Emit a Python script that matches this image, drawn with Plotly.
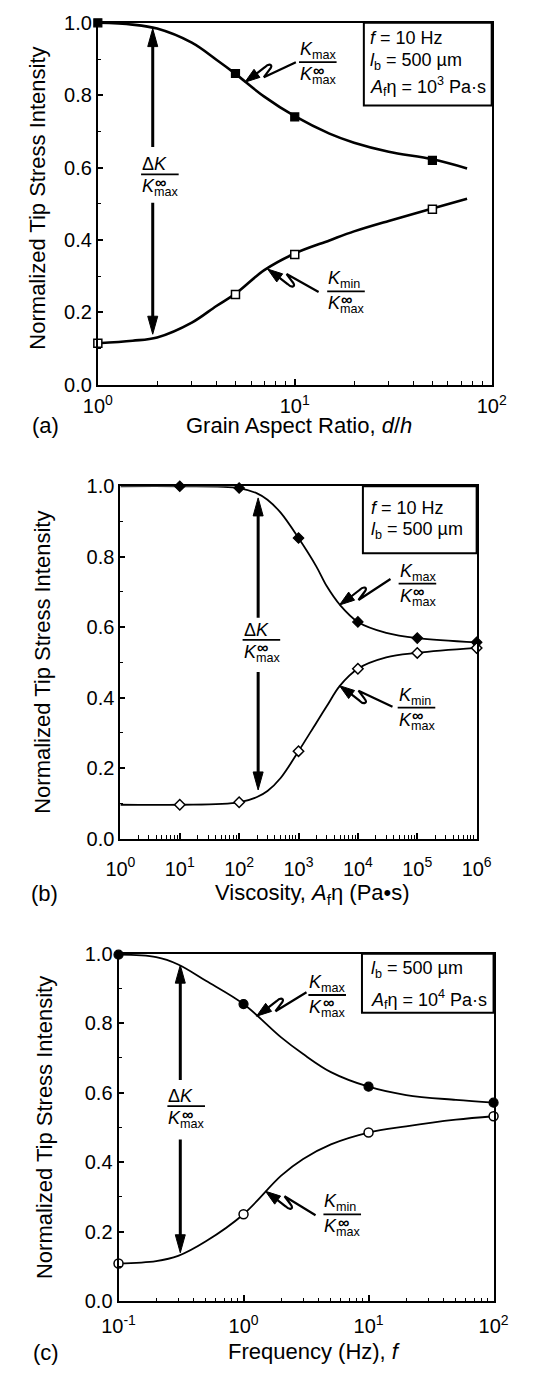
import plotly.graph_objects as go

W, H = 533, 1376
FONT = "Liberation Sans, Arial, Helvetica, sans-serif"

# ---------------- (a) grain aspect ratio ----------------
aspect_pts = [1, 5, 10, 50]
aspect_kmax = [1.0, 0.86, 0.74, 0.62]
aspect_kmin = [0.115, 0.25, 0.36, 0.485]
aspect_grid = [1, 1.5, 2, 3, 4, 5, 7, 10, 15, 20, 30, 50, 75]
aspect_kmax_fit = [1.0, 0.995, 0.984, 0.945, 0.898, 0.859, 0.796, 0.742, 0.694, 0.669, 0.644, 0.623, 0.598]
aspect_kmin_fit = [0.115, 0.122, 0.131, 0.172, 0.218, 0.252, 0.317, 0.363, 0.399, 0.424, 0.453, 0.487, 0.514]

# ---------------- (b) viscosity ----------------
visc_pts = [1e1, 1e2, 1e3, 1e4, 1e5, 1e6]
visc_kmax = [1.0, 0.995, 0.853, 0.615, 0.569, 0.557]
visc_kmin = [0.096, 0.103, 0.248, 0.482, 0.527, 0.541]
visc_grid = [1, 10, 100, 200, 300, 500, 1e3, 2e3, 3e3, 5e3, 1e4, 3e4, 1e5, 1e6]
visc_kmax_fit = [1.0, 1.0, 0.995, 0.98, 0.962, 0.925, 0.853, 0.772, 0.716, 0.663, 0.615, 0.584, 0.569, 0.557]
visc_kmin_fit = [0.096, 0.096, 0.103, 0.118, 0.135, 0.172, 0.248, 0.329, 0.376, 0.434, 0.482, 0.514, 0.527, 0.541]

# ---------------- (c) frequency ----------------
freq_pts = [0.1, 1, 10, 100]
freq_kmax = [0.997, 0.855, 0.617, 0.571]
freq_kmin = [0.108, 0.25, 0.485, 0.532]
freq_grid = [0.1, 0.2, 0.3, 0.5, 1, 2, 3, 5, 10, 20, 50, 100]
freq_kmax_fit = [0.997, 0.99, 0.969, 0.922, 0.855, 0.759, 0.711, 0.659, 0.617, 0.593, 0.579, 0.571]
freq_kmin_fit = [0.108, 0.115, 0.13, 0.172, 0.25, 0.361, 0.409, 0.451, 0.485, 0.503, 0.522, 0.532]

y_ticks = [0.0, 0.2, 0.4, 0.6, 0.8, 1.0]
y_title = "Normalized Tip Stress Intensity"

panels = [
    dict(tag="(a)", frame=(86, 12, 505, 380), decades=(0, 2), xpad=2,
         grid=aspect_grid, kmax_fit=aspect_kmax_fit, kmin_fit=aspect_kmin_fit,
         pts=aspect_pts, kmax=aspect_kmax, kmin=aspect_kmin,
         symbol="square", msize=8, lw=2.6,
         xtitle="Grain Aspect Ratio, <i>d</i>/<i>h</i>", xtitle_pos=(300, 421),
         ytitle_pos=(22, 190), tag_pos=(30, 421),
         box=(369, 12, 505, 96), box_x=375,
         box_lines=[("<i>f</i> = 10 Hz", 27),
                    ("<i>l</i><sub>b</sub> = 500 µm", 51),
                    ("<i>A</i><sub>f</sub>η = 10<sup>3</sup> Pa·s", 77)],
         dk=dict(x=1.9, top=0.984, gtop=0.657, gbot=0.503, bot=0.14, L=132, yb=166),
         kmax_lbl=dict(L=300, yb=52, tip=(5.58, 0.836), end=(51, 20)),
         kmin_lbl=dict(L=330, yb=285, tip=(7.28, 0.32), end=(51, 23))),
    dict(tag="(b)", frame=(110, 483, 489, 841), decades=(0, 6), xpad=11,
         grid=visc_grid, kmax_fit=visc_kmax_fit, kmin_fit=visc_kmin_fit,
         pts=visc_pts, kmax=visc_kmax, kmin=visc_kmin,
         symbol="diamond", msize=8, lw=1.8,
         xtitle="Viscosity, <i>A</i><sub>f</sub>η (Pa•s)", xtitle_pos=(314, 897),
         ytitle_pos=(27, 662), tag_pos=(29, 897),
         box=(368, 483, 489, 551), box_x=376,
         box_lines=[("<i>f</i> = 10 Hz", 505),
                    ("<i>l</i><sub>b</sub> = 500 µm", 528)],
         dk=dict(x=209, top=0.967, gtop=0.627, gbot=0.473, bot=0.138, L=240, yb=639),
         kmax_lbl=dict(L=406, yb=582, tip=(4900, 0.663), end=(51, 26)),
         kmin_lbl=dict(L=405, yb=708, tip=(4900, 0.434), end=(53, 21))),
    dict(tag="(c)", frame=(108, 958, 507, 1311), decades=(-1, 2), xpad=6,
         grid=freq_grid, kmax_fit=freq_kmax_fit, kmin_fit=freq_kmin_fit,
         pts=freq_pts, kmax=freq_kmax, kmin=freq_kmin,
         symbol="circle", msize=9, lw=1.8,
         xtitle="Frequency (Hz), <i>f</i>", xtitle_pos=(317, 1362),
         ytitle_pos=(30, 1135), tag_pos=(31, 1363),
         box=(367, 958, 507, 1018), box_x=376,
         box_lines=[("<i>l</i><sub>b</sub> = 500 µm", 974),
                    ("<i>A</i><sub>f</sub>η = 10<sup>4</sup> Pa·s", 1005)],
         dk=dict(x=0.312, top=0.967, gtop=0.636, gbot=0.465, bot=0.139, L=160, yb=1113),
         kmax_lbl=dict(L=310, yb=1000, tip=(1.27, 0.82), end=(50, 24)),
         kmin_lbl=dict(L=326, yb=1223, tip=(1.5, 0.316), end=(50, 24))),
]

fig = go.Figure()
shapes, anns = [], []


def px(x):
    return x / W


def py(y):
    return 1 - y / H


def text(x, y, s, size=19, xanchor="center", yanchor="middle", angle=0):
    anns.append(dict(x=px(x), y=py(y), xref="paper", yref="paper", text=s,
                     showarrow=False, xanchor=xanchor, yanchor=yanchor,
                     textangle=angle, borderpad=0,
                     font=dict(family=FONT, size=size, color="black")))


def fraction(L, yb, top, width=40):
    """Stacked ratio label: numerator over K^inf_max."""
    text(L, yb + 1, top, size=18, xanchor="left", yanchor="bottom")
    shapes.append(dict(type="line", xref="paper", yref="paper",
                       x0=px(L), x1=px(L + width), y0=py(yb), y1=py(yb),
                       line=dict(color="black", width=1.8)))
    text(L, yb + 1, "<i>K</i><sub>max</sub>", size=18, xanchor="left", yanchor="top")
    text(L + 21, yb + 8, "<b>∞</b>", size=16)


def head_path(dx, dy, length=17, half=4.5):
    """Triangle with its point at the anchor, opening toward (dx, dy)."""
    n = (dx * dx + dy * dy) ** 0.5
    ux, uy = dx / n, dy / n
    bx, by = ux * length, uy * length
    qx, qy = -uy * half, ux * half
    return (f"M0,0 L{bx + qx:.2f},{by + qy:.2f} "
            f"L{bx - qx:.2f},{by - qy:.2f} Z")


for i, p in enumerate(panels):
    sfx = "" if i == 0 else str(i + 1)
    xref, yref = "x" + sfx, "y" + sfx
    l, t, r, b = p["frame"]
    d0, d1 = p["decades"]

    majors = [10.0 ** k for k in range(d0, d1 + 1)]
    minors = [m * 10.0 ** k for k in range(d0, d1) for m in range(2, 10)]

    fig.update_layout(**{
        "xaxis" + sfx: dict(
            domain=[px(l), px(r)], anchor=yref, type="log", range=[d0, d1],
            tickvals=majors, ticktext=[f"10<sup>{k}</sup>" for k in range(d0, d1 + 1)],
            ticks="inside", ticklen=6, tickwidth=1.5, tickcolor="black",
            ticklabelstandoff=p["xpad"],
            minor=dict(tickvals=minors, ticks="inside", ticklen=3.5, tickwidth=1.3,
                       tickcolor="black"),
            showline=True, linewidth=2, linecolor="black", mirror=True,
            showgrid=False, zeroline=False,
            tickfont=dict(family=FONT, size=20, color="black")),
        "yaxis" + sfx: dict(
            domain=[py(b), py(t)], anchor=xref, range=[0, 1.0],
            tickvals=y_ticks, tickformat=".1f",
            ticks="inside", ticklen=5, tickwidth=1.5, tickcolor="black",
            minor=dict(dtick=0.1, ticks="inside", ticklen=3, tickwidth=1.3,
                       tickcolor="black"),
            showline=True, linewidth=2, linecolor="black", mirror=True,
            showgrid=False, zeroline=False,
            tickfont=dict(family=FONT, size=20, color="black")),
    })

    for fit in (p["kmax_fit"], p["kmin_fit"]):
        fig.add_trace(go.Scatter(x=p["grid"], y=fit, mode="lines", xaxis=xref, yaxis=yref,
                                 line=dict(color="black", width=p["lw"], shape="spline",
                                           smoothing=1.0),
                                 cliponaxis=False, showlegend=False, hoverinfo="skip"))
    fig.add_trace(go.Scatter(x=p["pts"], y=p["kmax"], mode="markers", xaxis=xref, yaxis=yref,
                             marker=dict(symbol=p["symbol"], size=p["msize"], color="black",
                                         line=dict(color="black", width=1.2)),
                             cliponaxis=False, showlegend=False))
    fig.add_trace(go.Scatter(x=p["pts"], y=p["kmin"], mode="markers", xaxis=xref, yaxis=yref,
                             marker=dict(symbol=p["symbol"], size=p["msize"], color="white",
                                         line=dict(color="black", width=1.5)),
                             cliponaxis=False, showlegend=False))

    # axis titles and panel tag
    text(*p["ytitle_pos"], y_title, size=22, angle=-90)
    text(*p["xtitle_pos"], p["xtitle"], size=22)
    text(*p["tag_pos"], p["tag"], size=22)

    # condition box
    bl, bt, br, bb = p["box"]
    shapes.append(dict(type="rect", xref="paper", yref="paper",
                       x0=px(bl), x1=px(br), y0=py(bb), y1=py(bt),
                       line=dict(color="black", width=2), fillcolor="white", layer="above"))
    for s, yy in p["box_lines"]:
        text(p["box_x"], yy, s, size=18, xanchor="left")

    # double-headed range arrow with the ΔK label in its gap
    dk = p["dk"]
    per_px = 1.0 / (b - t)
    for y_end, y_gap, sgn in ((dk["top"], dk["gtop"], 1), (dk["bot"], dk["gbot"], -1)):
        shapes.append(dict(type="line", xref=xref, yref=yref, x0=dk["x"], x1=dk["x"],
                           y0=y_gap, y1=y_end - sgn * 8 * per_px,
                           line=dict(color="black", width=3)))
        shapes.append(dict(type="path", xref=xref, yref=yref, xsizemode="pixel",
                           ysizemode="pixel", xanchor=dk["x"], yanchor=y_end,
                           path=head_path(0, -sgn, length=18, half=5),
                           fillcolor="black", line=dict(color="black", width=1)))
    fraction(dk["L"], dk["yb"], "Δ<i>K</i>")

    # squiggle pointers to each curve
    for lbl, sub, s in ((p["kmax_lbl"], "max", 1), (p["kmin_lbl"], "min", -1)):
        fraction(lbl["L"], lbl["yb"], f"<i>K</i><sub>{sub}</sub>")
        tx, ty = lbl["tip"]
        ex, ey = lbl["end"]
        shapes.append(dict(type="path", xref=xref, yref=yref, xsizemode="pixel",
                           ysizemode="pixel", xanchor=tx, yanchor=ty,
                           path=head_path(0.82, 0.6 * s, length=15, half=5),
                           fillcolor="black", line=dict(color="black", width=1)))
        squiggle = (f"M11,{8 * s} L20,{15 * s} C24,{19 * s} 29,{18 * s} 25,{13 * s} "
                    f"L19,{5 * s} L{ex},{ey * s}")
        shapes.append(dict(type="path", xref=xref, yref=yref, xsizemode="pixel",
                           ysizemode="pixel", xanchor=tx, yanchor=ty, path=squiggle,
                           fillcolor="rgba(0,0,0,0)", line=dict(color="black", width=2.2)))

fig.update_layout(width=W, height=H, margin=dict(l=0, r=0, t=0, b=0),
                  paper_bgcolor="white", plot_bgcolor="white",
                  shapes=shapes, annotations=anns, showlegend=False,
                  font=dict(family=FONT, color="black"))

fig.write_html("out.html")
